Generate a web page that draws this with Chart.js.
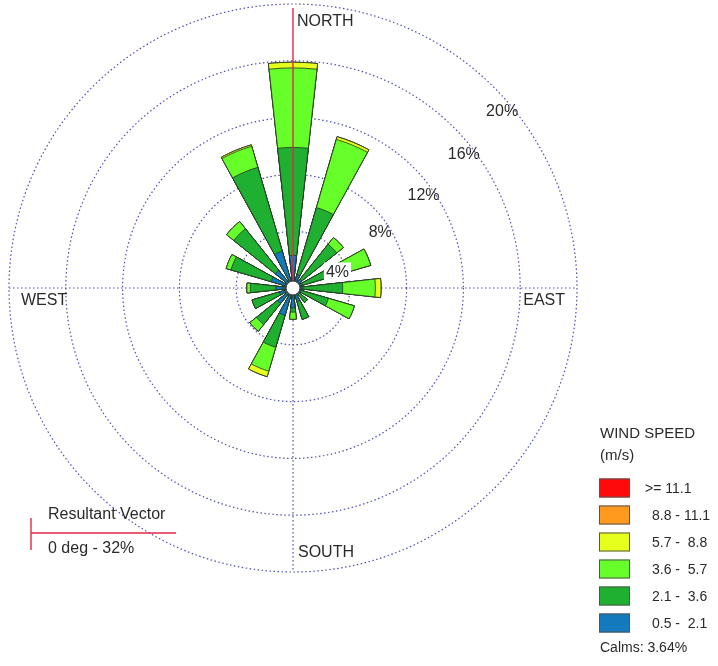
<!DOCTYPE html>
<html>
<head>
<meta charset="utf-8">
<script src="https://cdn.jsdelivr.net/npm/chart.js@4.4.1/dist/chart.umd.min.js"></script>
<style>
  html, body { margin: 0; padding: 0; background: #fff; }
  #wrap { position: relative; width: 718px; height: 666px; }
</style>
</head>
<body>
<div id="wrap"><canvas id="rose"></canvas></div>
<script>
// direcciones (sentido horario desde el norte)
const directions = ['N', 'NNE', 'NE', 'ENE', 'E', 'ESE', 'SE', 'SSE', 'S', 'SSW', 'SW', 'WSW', 'W', 'WNW', 'NW', 'NNW'];

// frecuencia (%) por clase de velocidad y direccion
const speed_05_21 = [2.3, 1.0, 0.8, 0.7, 0.7, 0.6, 0.6, 1.0, 1.4, 2.0, 1.4, 1.0, 1.2, 1.6, 1.6, 2.7];
const speed_21_36 = [7.6, 4.9, 3.15, 2.9, 2.8, 2.0, 0.7, 1.3, 0.3, 2.35, 1.9, 2.0, 1.8, 2.95, 3.75, 6.15];
const speed_36_57 = [5.6, 5.0, 0.6, 2.1, 2.3, 1.9, 0, 0, 0.5, 1.75, 0.6, 0, 0.25, 0.35, 0.65, 1.55];
const speed_57_88 = [0.4, 0.2, 0, 0, 0.4, 0, 0, 0, 0, 0.4, 0, 0, 0, 0, 0, 0.1];
const speed_88_111 = [0, 0, 0, 0, 0, 0, 0, 0, 0, 0, 0, 0, 0, 0, 0, 0];
const speed_111 = [0, 0, 0, 0, 0, 0, 0, 0, 0, 0, 0, 0, 0, 0, 0, 0];

const speedLabels = ['0.5 -  2.1', '2.1 -  3.6', '3.6 -  5.7', '5.7 -  8.8', '8.8 - 11.1', '>= 11.1'];
const speedColors = ['#1479bd', '#1fb032', '#66ff2a', '#e6ff1c', '#ff9a1e', '#ff0a0a'];

const rTicks = [4, 8, 12, 16, 20];
const calms = '3.64%';
const resultant = '0 deg - 32%';

const font = "'Liberation Sans', Arial, sans-serif";
const gridColor = '#4d50ad';
const vectorColor = 'rgb(228, 40, 72)';

// acumulado para dibujar las barras apiladas (cada barra sobre la anterior)
const bins = [speed_05_21, speed_21_36, speed_36_57, speed_57_88, speed_88_111, speed_111];
const labels = [];
directions.forEach(d => { labels.push(d); labels.push(''); });

let running = directions.map(() => 0);
const datasets = bins.map((bin, i) => {
    running = running.map((v, k) => v + bin[k]);
    const data = [];
    running.forEach(v => { data.push(+v.toFixed(2)); data.push(0); });
    return {
        label: speedLabels[i],
        data: data,
        backgroundColor: speedColors[i],
        borderColor: '#22331f',
        borderWidth: ctx => ctx.dataIndex % 2 ? 0 : 0.8,
        angle: ctx => ctx.dataIndex % 2 ? 10 : 12.5 // barra + hueco = 22.5 grados
    };
});

function polar(cx, cy, dist, deg) {
    const a = (deg - 90) * Math.PI / 180;
    return [cx + dist * Math.cos(a), cy + dist * Math.sin(a)];
}

const roseExtras = {
    id: 'roseExtras',
    beforeDatasetsDraw(chart) {
        const s = chart.scales.r;
        const ctx = chart.ctx;
        const cx = s.xCenter, cy = s.yCenter, R = s.drawingArea;
        ctx.save();
        ctx.strokeStyle = gridColor;
        ctx.lineWidth = 1.2;
        ctx.setLineDash([1.5, 2.5]);
        ctx.beginPath();
        ctx.moveTo(cx - R, cy); ctx.lineTo(cx + R, cy);
        ctx.moveTo(cx, cy); ctx.lineTo(cx, cy + R);
        ctx.stroke();
        ctx.restore();
    },
    afterDatasetsDraw(chart) {
        const s = chart.scales.r;
        const ctx = chart.ctx;
        const cx = s.xCenter, cy = s.yCenter, R = s.drawingArea;
        ctx.save();
        ctx.setLineDash([]);

        // vector resultante (norte)
        ctx.strokeStyle = vectorColor;
        ctx.lineWidth = 1.4;
        ctx.beginPath();
        ctx.moveTo(cx, cy);
        ctx.lineTo(cx, cy - R + 4);
        ctx.stroke();

        // circulo de calmas
        ctx.beginPath();
        ctx.arc(cx, cy, 7, 0, Math.PI * 2);
        ctx.fillStyle = '#fff';
        ctx.fill();
        ctx.lineWidth = 1;
        ctx.strokeStyle = '#333';
        ctx.stroke();

        // etiquetas de los anillos
        const tickAngles = [68.5, 56.5, 54, 51.5, 49.5];
        ctx.font = '16px ' + font;
        ctx.textAlign = 'center';
        ctx.textBaseline = 'middle';
        rTicks.forEach((v, i) => {
            const d = s.getDistanceFromCenterForValue(v) - 9;
            const [x, y] = polar(cx, cy, d, tickAngles[i]);
            const txt = v + '%';
            if (i === 0) {
                const w = ctx.measureText(txt).width;
                ctx.fillStyle = '#fff';
                ctx.fillRect(x - w / 2 - 2, y - 8, w + 4, 18);
            }
            ctx.fillStyle = '#2a2a2a';
            ctx.fillText(txt, x, y + 2);
        });

        // puntos cardinales
        ctx.textAlign = 'left';
        ctx.fillText('NORTH', cx + 4, cy - R + 18);
        ctx.fillText('WEST', cx - R + 12, cy + 13);
        ctx.fillText('SOUTH', cx + 5, cy + R - 19);
        ctx.textAlign = 'right';
        ctx.fillText('EAST', cx + R - 12, cy + 13);
        ctx.restore();
    },
    afterDraw(chart) {
        const ctx = chart.ctx;
        ctx.save();
        ctx.setLineDash([]);
        ctx.fillStyle = '#2a2a2a';
        ctx.textBaseline = 'middle';
        ctx.textAlign = 'left';

        // leyenda de velocidades
        ctx.font = '15px ' + font;
        ctx.fillText('WIND SPEED', 600, 434);
        ctx.fillText('(m/s)', 600, 456);
        ctx.font = '14px ' + font;
        const ds = chart.data.datasets.slice().reverse();
        ds.forEach((d, i) => {
            const y = 488 + i * 27;
            ctx.fillStyle = d.backgroundColor;
            ctx.fillRect(599, y - 9.5, 31, 19);
            ctx.strokeStyle = '#555';
            ctx.lineWidth = 1;
            ctx.strokeRect(599.5, y - 9, 30, 18);
            ctx.fillStyle = '#2a2a2a';
            ctx.fillText(d.label, i === 0 ? 645 : 652, y + 1);
        });
        ctx.fillText('Calms: ' + calms, 600, 648);

        // vector resultante
        ctx.font = '16px ' + font;
        ctx.fillText('Resultant Vector', 48, 515);
        ctx.fillText(resultant, 48, 549);
        ctx.strokeStyle = vectorColor;
        ctx.lineWidth = 1.4;
        ctx.beginPath();
        ctx.moveTo(31, 533); ctx.lineTo(176, 533);
        ctx.moveTo(31, 518); ctx.lineTo(31, 550);
        ctx.stroke();
        ctx.restore();
    }
};

new Chart(document.getElementById('rose'), {
    type: 'polarArea',
    data: {
        labels: labels,
        datasets: datasets
    },
    options: {
        responsive: true,
        maintainAspectRatio: false,
        animation: false,
        events: [],
        layout: { padding: { left: 9, right: 141, top: 4, bottom: 94 } },
        plugins: {
            legend: { display: false },
            tooltip: { enabled: false }
        },
        scales: {
            r: {
                min: 0,
                max: 20,
                startAngle: -6.25,
                ticks: { display: false, stepSize: 4 },
                grid: { circular: true, color: gridColor, lineWidth: 1.2, borderDash: [1.5, 2.5] },
                border: { dash: [1.5, 2.5] },
                angleLines: { display: false },
                pointLabels: { display: false }
            }
        }
    },
    plugins: [roseExtras]
});
</script>
</body>
</html>
